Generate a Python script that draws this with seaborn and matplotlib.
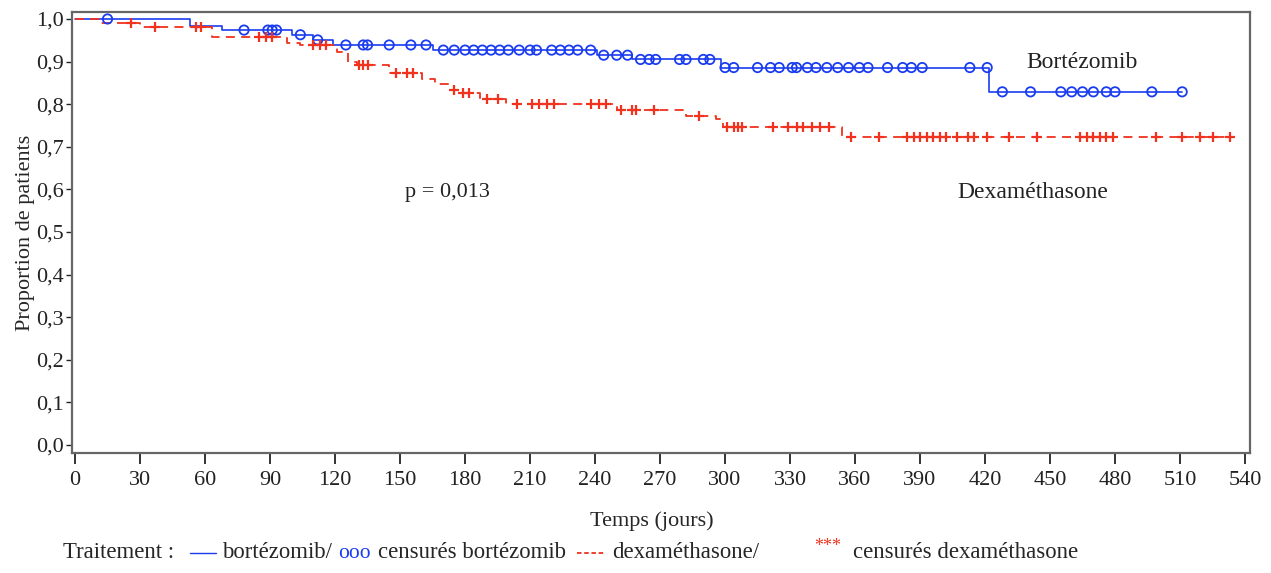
import numpy as np
import pandas as pd
import matplotlib
matplotlib.use('Agg')
import matplotlib.pyplot as plt
import seaborn as sns
from matplotlib.lines import Line2D

# Kaplan-Meier steps: time (days) and survival after the step
bort_t = [0, 53, 68, 100, 110, 119, 165, 241, 257, 298, 422]
bort_s = [1.0, 0.983, 0.974, 0.963, 0.951, 0.939, 0.927, 0.915, 0.905, 0.886, 0.829]
bort_end = 511
bort_cens = [15, 78, 89, 91, 93, 104, 112, 125, 133, 135, 145, 155, 162,
             170, 175, 180, 184, 188, 192, 196, 200, 205, 210, 213, 220,
             224, 228, 232, 238, 244, 250, 255, 261, 265, 268, 279, 282, 290, 293,
             300, 304, 315, 321, 325, 331, 333, 338, 342, 347, 352, 357, 362, 366,
             375, 382, 386, 391, 413, 421, 428, 441, 455, 460, 465, 470, 476, 480,
             497, 511]

dexa_t = [0, 12, 30, 63, 98, 104, 121, 126, 130, 145, 160, 166, 173, 178,
          187, 199, 250, 282, 296, 299, 354]
dexa_s = [1.0, 0.991, 0.981, 0.957, 0.944, 0.938, 0.922, 0.899, 0.892, 0.873,
          0.86, 0.848, 0.833, 0.826, 0.812, 0.80, 0.786, 0.772, 0.765, 0.746, 0.723]
dexa_end = 535
dexa_cens = [26, 37, 56, 58, 85, 88, 91, 110, 113, 116, 131, 133, 135, 148, 153,
             156, 175, 179, 182, 190, 195, 204, 211, 214, 218, 221, 238, 242, 245,
             252, 257, 259, 267, 288, 301, 304, 306, 308, 322, 329, 333, 336, 340,
             344, 348, 358, 371, 384, 387, 390, 393, 396, 399, 402, 407, 412, 415,
             421, 431, 444, 464, 467, 470, 473, 476, 479, 499, 511, 519, 525, 533]

x_ticks = list(range(0, 541, 30))
y_ticks = [0.0, 0.1, 0.2, 0.3, 0.4, 0.5, 0.6, 0.7, 0.8, 0.9, 1.0]
y_labels = ['0,0', '0,1', '0,2', '0,3', '0,4', '0,5', '0,6', '0,7', '0,8', '0,9', '1,0']

blue = '#1a3cf0'
red = '#f0321e'


def steps(t, s, end):
    return pd.DataFrame({'t': list(t) + [end], 's': list(s) + [s[-1]]})


def censored(t, s, c):
    idx = np.searchsorted(t, c, side='right') - 1
    return pd.DataFrame({'t': c, 's': np.array(s)[idx]})


sns.set_style('ticks')
plt.rcParams['font.family'] = ['Liberation Serif', 'DejaVu Serif']

fig = plt.figure(figsize=(12.71, 5.73), dpi=100)
ax = fig.add_axes([72 / 1271, 1 - 453 / 573, (1250 - 72) / 1271, (453 - 12) / 573])

sns.lineplot(data=steps(bort_t, bort_s, bort_end), x='t', y='s', ax=ax,
             drawstyle='steps-post', color=blue, lw=1.2, estimator=None, sort=False)
sns.lineplot(data=steps(dexa_t, dexa_s, dexa_end), x='t', y='s', ax=ax,
             drawstyle='steps-post', color=red, lw=1.3, estimator=None, sort=False,
             dashes=False, linestyle=(0, (5, 3.5)))
sns.scatterplot(data=censored(bort_t, bort_s, bort_cens), x='t', y='s', ax=ax,
                marker='o', s=45, facecolor='none', edgecolor=blue, linewidth=1.3, zorder=3)
sns.scatterplot(data=censored(dexa_t, dexa_s, dexa_cens), x='t', y='s', ax=ax,
                marker='+', s=60, color=red, linewidth=1.6, zorder=3)

ax.set_xlim(-1.4, 542.3)
ax.set_ylim(-0.0188, 1.0164)
ax.set_xticks(x_ticks)
ax.set_xticklabels([str(v) for v in x_ticks], fontsize=16)
ax.set_yticks(y_ticks)
ax.set_yticklabels(y_labels, fontsize=16)
ax.tick_params(axis='x', direction='out', length=8, width=1.3, pad=5, colors='#222222')
ax.tick_params(axis='y', direction='out', length=4, width=1.0, pad=2, colors='#222222')
for sp in ax.spines.values():
    sp.set_visible(True)
    sp.set_color('#666666')
    sp.set_linewidth(1.6)

ax.set_xlabel('')
ax.set_ylabel('Proportion de patients', fontsize=16, labelpad=1)

ax.text(465, 0.899, 'Bortézomib', fontsize=17, ha='center', va='center', color='#222222')
ax.text(442, 0.592, 'Dexaméthasone', fontsize=17, ha='center', va='center', color='#222222')
ax.text(172, 0.592, 'p = 0,013', fontsize=16, ha='center', va='center', color='#222222')

fig.text(652 / 1271, 1 - 521 / 573, 'Temps (jours)', fontsize=16, ha='center', va='center')

yl = 1 - 553 / 573
fs = 16.4
fig.text(63 / 1271, yl, 'Traitement :', fontsize=fs, va='center')
fig.add_artist(Line2D([190 / 1271, 216 / 1271], [yl, yl], color=blue, lw=1.0,
                      transform=fig.transFigure))
fig.text(222 / 1271, yl, 'bortézomib/', fontsize=fs, va='center')
fig.text(338 / 1271, yl, 'ooo', fontsize=15.5, va='center', color=blue)
fig.text(378 / 1271, yl, 'censurés bortézomib', fontsize=fs, va='center')
fig.add_artist(Line2D([577 / 1271, 604 / 1271], [yl, yl], color=red, lw=1.3,
                      linestyle=(0, (2.5, 1.5)), transform=fig.transFigure))
fig.text(612 / 1271, yl, 'dexaméthasone/', fontsize=fs, va='center')
fig.text(814 / 1271, yl + 0.012, '***', fontsize=13, va='center', color=red)
fig.text(853 / 1271, yl, 'censurés dexaméthasone', fontsize=fs, va='center')

fig.savefig('out.png', dpi=100)
